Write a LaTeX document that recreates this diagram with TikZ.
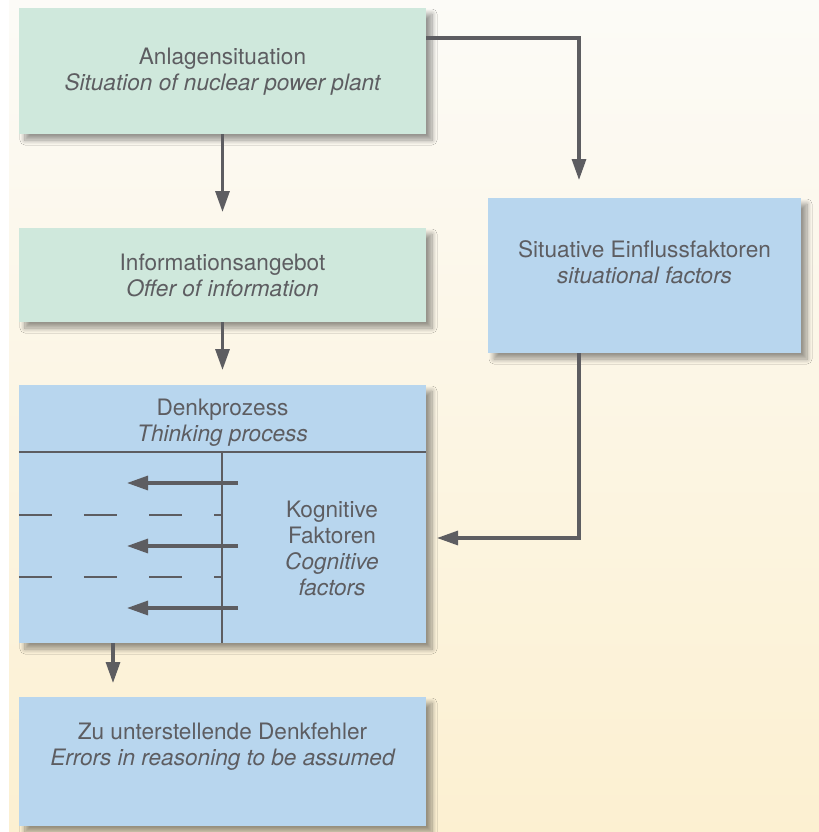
\documentclass[tikz,border=0pt]{standalone}
\usepackage{fontspec}
\setmainfont{TeX Gyre Heros}
\usetikzlibrary{arrows.meta,shadows.blur}

\definecolor{mint}{HTML}{CFE8DC}
\definecolor{skyblue}{HTML}{B8D6EE}
\definecolor{inkgray}{HTML}{5D5D61}
\definecolor{bgtop}{HTML}{FCFBF7}
\definecolor{bgbottom}{HTML}{FCF0D1}

\tikzset{
  box/.style={rectangle, inner sep=0pt, outer sep=0pt, draw=none,
    blur shadow={shadow xshift=6bp, shadow yshift=-6bp, shadow opacity=40,
      shadow blur radius=5bp, shadow blur steps=10}},
  greenbox/.style={box, fill=mint},
  bluebox/.style={box, fill=skyblue},
  label/.style={align=center, text=inkgray, inner sep=0pt,
    font=\fontsize{22.7}{26}\selectfont},
  conn/.style={draw=inkgray, line width=3.1bp,
    -{Triangle[length=21bp,width=14bp]}},
  divider/.style={draw=inkgray, line width=1.3bp},
  dashdiv/.style={divider, dash pattern=on 33bp off 32bp},
}

\begin{document}
\begin{tikzpicture}[x=1bp, y=-1bp]
  \useasboundingbox (0,0) rectangle (819,832);

  % backdrop panel
  \shade[top color=bgtop, bottom color=bgbottom] (9,0) rectangle (819,832);

  % boxes
  \node[greenbox, minimum width=407bp, minimum height=126bp] (b1) at (222.5,71) {};
  \node[greenbox, minimum width=407bp, minimum height=94bp]  (b2) at (222.5,275) {};
  \node[bluebox,  minimum width=313bp, minimum height=155bp] (b3) at (644.5,275.5) {};
  \node[bluebox,  minimum width=407bp, minimum height=258bp] (b4) at (222.5,514) {};
  \node[bluebox,  minimum width=407bp, minimum height=129bp] (b5) at (222.5,761.5) {};

  % texts
  \node[label] (t1) at (222.5,72) {Anlagensituation\\\itshape Situation of nuclear power plant};
  \node[label] (t2) at (222.5,275.5) {Informationsangebot\\\itshape Offer of information};
  \node[label] (t3) at (644.5,262) {Situative Einflussfaktoren\\\itshape situational factors};
  \node[label] (t4) at (222.5,423) {Denkprozess\\\itshape Thinking process};
  \node[label] (t5) at (332,548.5) {Kognitive\\Faktoren\\\itshape Cognitive\\\itshape factors};
  \node[label] (t6) at (222.5,747) {Zu unterstellende Denkfehler\\\itshape Errors in reasoning to be assumed};

  % inner structure of the thinking-process box
  \coordinate (hd) at (222,452);
  \draw[divider] (b4.west |- hd) -- (b4.east |- hd);
  \draw[divider] (hd) -- (b4.south -| hd);
  \coordinate (d1) at (222,515);
  \coordinate (d2) at (222,577);
  \draw[dashdiv] (b4.west |- d1) -- (d1);
  \draw[dashdiv] (b4.west |- d2) -- (d2);

  \coordinate (s1) at (238,483); \coordinate (f1) at (127,483);
  \coordinate (s2) at (238,546); \coordinate (f2) at (127,546);
  \coordinate (s3) at (238,608); \coordinate (f3) at (127,608);
  \draw[conn] (s1) -- (f1);
  \draw[conn] (s2) -- (f2);
  \draw[conn] (s3) -- (f3);

  % connectors between boxes
  \coordinate (e1) at (222.5,212);
  \draw[conn] (b1.south) -- (e1);

  \coordinate (k2) at (579,38);
  \coordinate (e2) at (579,180);
  \draw[conn] (b1.east |- k2) -- (k2) -- (e2);

  \coordinate (e3) at (222.5,370);
  \draw[conn] (b2.south) -- (e3);

  \coordinate (k4) at (579,538);
  \coordinate (e4) at (437,538);
  \draw[conn] (b3.south -| k4) -- (k4) -- (e4);

  \coordinate (e5) at (113,683);
  \draw[conn] (b4.south -| e5) -- (e5);
\end{tikzpicture}
\end{document}
